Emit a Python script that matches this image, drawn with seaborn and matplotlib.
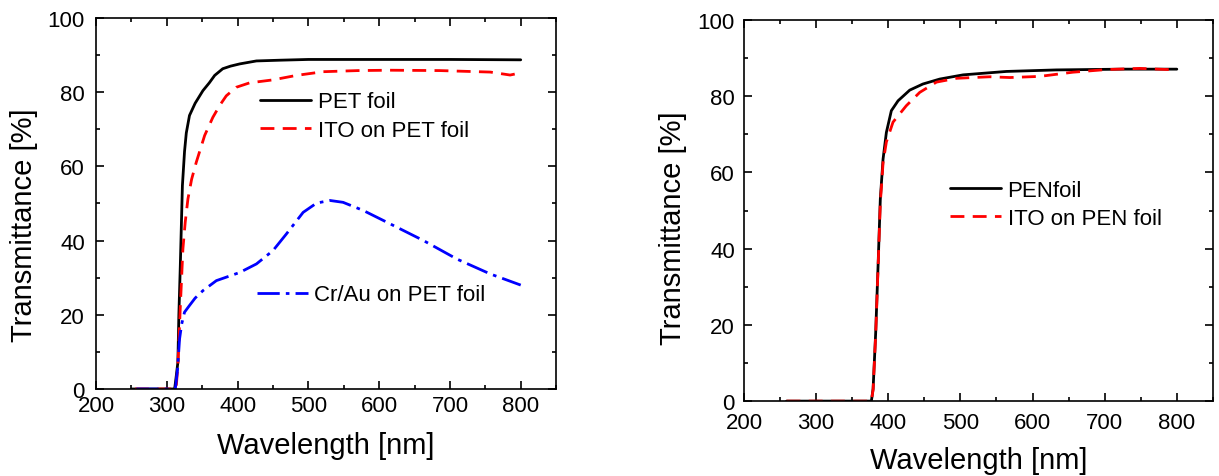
import numpy as np
import pandas as pd
import seaborn as sns
import matplotlib.pyplot as plt
from matplotlib.ticker import MultipleLocator

# left panel: PET substrates
wl_pet = [250, 311, 313, 315.6, 317, 319, 322, 325, 327.5, 332, 340, 351, 360, 367.6, 379, 390, 403, 426.6, 460, 500, 600, 700, 800]
t_pet = [0, 0, 3, 7.2, 20, 33, 54.8, 64, 69, 73.7, 77, 80.4, 82.5, 84.5, 86.3, 87.0, 87.6, 88.4, 88.6, 88.8, 88.8, 88.8, 88.7]

wl_ito_pet = [255, 313, 315.6, 319, 322.7, 326, 329.8, 335, 341.6, 353.4, 365, 375, 384, 398, 417, 450, 483, 521, 570, 615, 686, 757, 785, 800]
t_ito_pet = [0, 0, 6.3, 22, 37.7, 45, 51.2, 56.5, 61.1, 68.3, 73.2, 76.5, 79, 81.3, 82.5, 83.3, 84.5, 85.5, 85.8, 85.9, 85.8, 85.4, 84.6, 85.2]

wl_crau = [257, 312, 315, 318, 321, 325, 332, 340, 351, 370, 403, 426.6, 450, 469, 492.6, 511.6, 530.5, 549, 577.6, 615.5, 662.6, 710, 757, 800]
t_crau = [0, 0, 5, 13.5, 17.5, 20.7, 22.5, 24.5, 26.5, 29.2, 31.4, 33.7, 37.3, 41.8, 47.6, 50.1, 50.8, 50.3, 48.1, 44.5, 40, 35, 31, 28]

# right panel: PEN substrates
wl_pen = [259, 376.6, 379, 382.6, 385.9, 389, 392.8, 397.4, 404.3, 413.6, 429.8, 448, 471.4, 503.7, 563.8, 633, 725.6, 800]
t_pen = [0, 0, 3.2, 18, 35.6, 53, 63.5, 70.5, 76.2, 78.8, 81.6, 83.2, 84.5, 85.6, 86.5, 86.9, 87.1, 87.1]

wl_ito_pen = [259, 376.6, 379, 382.6, 385.9, 389, 392.8, 397.4, 406.6, 425, 443.6, 466.8, 494.5, 540.7, 568.5, 610, 656, 702.5, 749, 800]
t_ito_pen = [0, 0, 3, 17.5, 35, 52, 62.5, 68, 73.2, 77.5, 81, 83.7, 84.7, 85.1, 84.9, 85.2, 86.3, 87, 87.3, 86.9]

sns.set_style("ticks")
plt.rcParams['font.family'] = ['Liberation Sans', 'DejaVu Sans']
plt.rcParams.update({'text.color': 'black', 'axes.labelcolor': 'black',
                     'xtick.color': 'black', 'ytick.color': 'black'})

fig = plt.figure(figsize=(12.19, 4.77), dpi=100)
ax1 = fig.add_axes([0.0788, 0.1824, 0.3774, 0.778])
ax2 = fig.add_axes([0.6103, 0.157, 0.3847, 0.799])

lw = 2.0
sns.lineplot(x=wl_pet, y=t_pet, ax=ax1, color="black", lw=lw, label="PET foil")
sns.lineplot(x=wl_ito_pet, y=t_ito_pet, ax=ax1, color="red", lw=lw, label="ITO on PET foil")
sns.lineplot(x=wl_crau, y=t_crau, ax=ax1, color="blue", lw=lw, label="Cr/Au on PET foil")
ax1.lines[1].set_dashes((5, 3))
ax1.lines[2].set_dashes((8, 2.2, 1.3, 2.2))

sns.lineplot(x=wl_pen, y=t_pen, ax=ax2, color="black", lw=lw, label="PENfoil")
sns.lineplot(x=wl_ito_pen, y=t_ito_pen, ax=ax2, color="red", lw=lw, label="ITO on PEN foil")
ax2.lines[1].set_dashes((5, 3))

for ax in (ax1, ax2):
    ax.set_xlim(200, 850)
    ax.set_ylim(0, 100)
    ax.xaxis.set_major_locator(MultipleLocator(100))
    ax.xaxis.set_minor_locator(MultipleLocator(50))
    ax.yaxis.set_major_locator(MultipleLocator(20))
    ax.yaxis.set_minor_locator(MultipleLocator(10))
    ax.tick_params(which='both', direction='in', top=True, right=True, width=1.2, labelsize=16)
    ax.tick_params(which='major', length=6)
    ax.tick_params(which='minor', length=3)
    for s in ax.spines.values():
        s.set_linewidth(1.2)
        s.set_color('black')
    ax.set_xlabel("Wavelength [nm]", fontsize=21)
    ax.set_ylabel("Transmittance [%]", fontsize=21)

ax1.tick_params(axis='x', pad=4.5)
ax1.tick_params(axis='y', pad=8)
ax2.tick_params(axis='x', pad=8)
ax2.tick_params(axis='y', pad=6.5)
ax1.xaxis.set_label_coords(0.5, -0.113)
ax1.yaxis.set_label_coords(-0.126, 0.445)
ax2.xaxis.set_label_coords(0.5, -0.117)
ax2.yaxis.set_label_coords(-0.1215, 0.457)

# legends without frame, handles placed as in the original
h, l = ax1.get_legend_handles_labels()
leg1 = ax1.legend(h[:2], l[:2], loc='upper left', bbox_to_anchor=(0.357, 0.802), frameon=False,
                  fontsize=16, handlelength=2.3, handletextpad=0.3, labelspacing=0.33,
                  borderpad=0, borderaxespad=0)
ax1.add_artist(leg1)
ax1.legend(h[2:], l[2:], loc='upper left', bbox_to_anchor=(0.349, 0.282), frameon=False,
           fontsize=16, handlelength=2.3, handletextpad=0.3, borderpad=0, borderaxespad=0)

ax2.legend(loc='upper left', bbox_to_anchor=(0.439, 0.581), frameon=False,
           fontsize=16, handlelength=2.3, handletextpad=0.3, labelspacing=0.33,
           borderpad=0, borderaxespad=0)

fig.savefig("out.png", dpi=100)
